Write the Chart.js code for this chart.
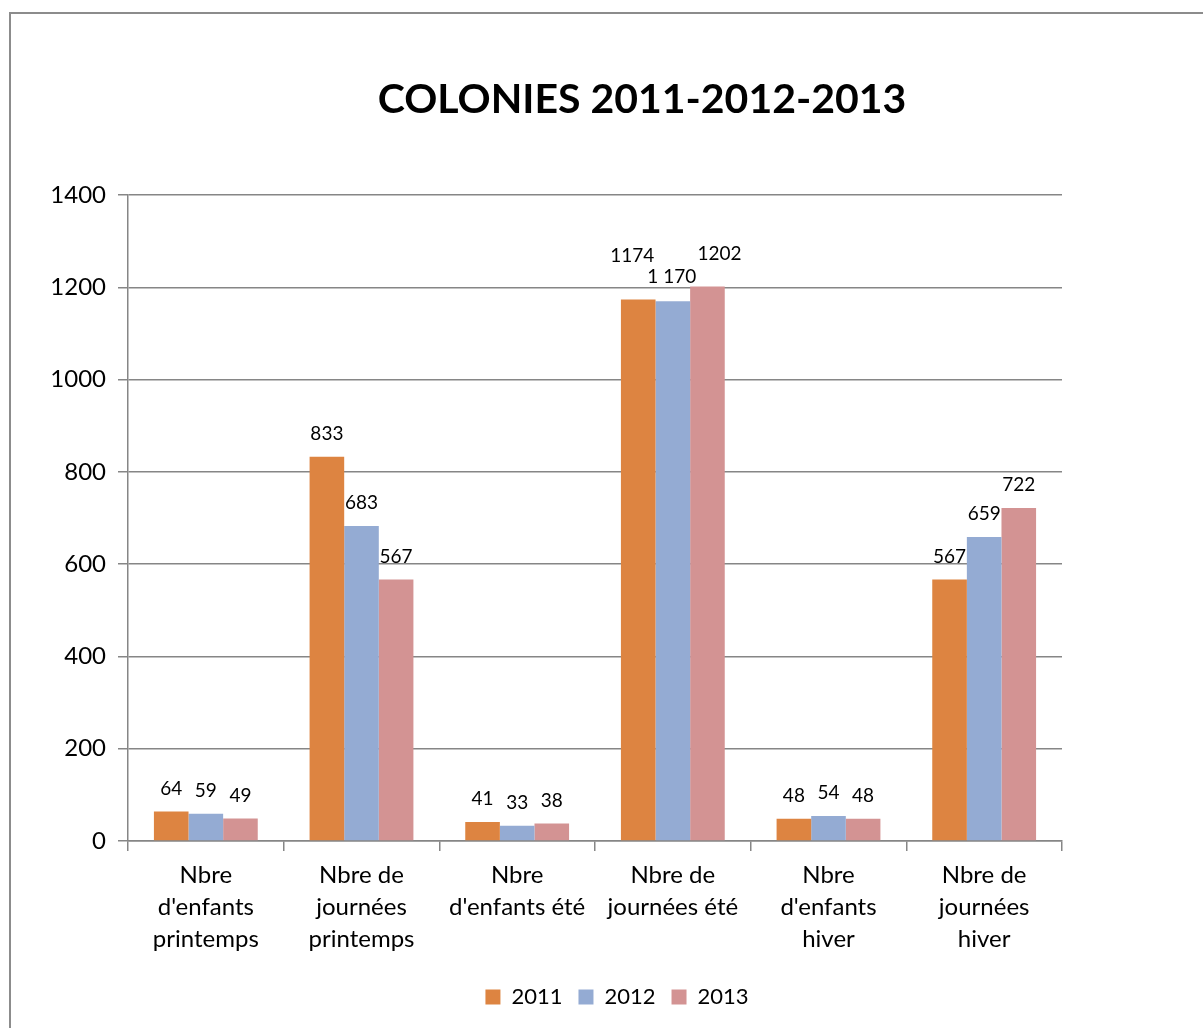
<!DOCTYPE html>
<html>
<head>
<meta charset="utf-8">
<script src="https://cdn.jsdelivr.net/npm/chart.js@4.4.1/dist/chart.umd.min.js"></script>
<style>
  html, body { margin: 0; padding: 0; background: #fff; overflow: hidden; }
  #frame {
    position: absolute; left: 9px; top: 12px;
    width: 1262px; height: 1040px;
    border: 2px solid #8c8c8c;
    background: #fff;
  }
</style>
</head>
<body>
<div id="frame"><canvas id="chart"></canvas></div>
<script>
// categories (multi-line labels, as in the original)
const categories = [
  ['Nbre', "d'enfants", 'printemps'],
  ['Nbre de', 'journées', 'printemps'],
  ['Nbre', "d'enfants été"],
  ['Nbre de', 'journées été'],
  ['Nbre', "d'enfants", 'hiver'],
  ['Nbre de', 'journées', 'hiver']
];
const years = ['2011', '2012', '2013'];
const values2011 = [64, 833, 41, 1174, 48, 567];
const values2012 = [59, 683, 33, 1170, 54, 659];
const values2013 = [49, 567, 38, 1202, 48, 722];
const yTicksMax = 1400;
const yTicksStep = 200;

const colors = ['#dd8441', '#94abd3', '#d39393'];
const FONT = 'Lato, sans-serif';

// valeurs affichées au-dessus des barres
// (le groupe "journées été" a été déplacé à la main dans l'original)
const labelPlugin = {
  id: 'barLabels',
  afterLayout(chart) {
    // la légende de l'original est un peu décalée vers la gauche
    if (chart.legend) {
      chart.legend.left -= 25;
      chart.legend.right -= 25;
    }
  },
  afterDatasetsDraw(chart) {
    const ctx = chart.ctx;
    const tweak = {
      '0-3': { dx: -6, dy: -21 },
      '1-3': { dx: -1, dy: -1, text: '1 170' },
      '2-3': { dx: 12, dy: -10 }
    };
    ctx.save();
    ctx.font = '19px ' + FONT;
    ctx.fillStyle = '#000';
    ctx.textAlign = 'center';
    ctx.textBaseline = 'middle';
    chart.data.datasets.forEach((ds, i) => {
      const meta = chart.getDatasetMeta(i);
      meta.data.forEach((bar, j) => {
        const t = tweak[i + '-' + j] || {};
        const txt = t.text || String(ds.data[j]);
        ctx.fillText(txt, bar.x + (t.dx || 0), bar.y - 23 + (t.dy || 0));
      });
    });
    ctx.restore();
  }
};

const gridColor = '#868686';

new Chart(document.getElementById('chart'), {
  type: 'bar',
  data: {
    labels: categories,
    datasets: [
      { label: years[0], data: values2011, backgroundColor: colors[0] },
      { label: years[1], data: values2012, backgroundColor: colors[1] },
      { label: years[2], data: values2013, backgroundColor: colors[2] }
    ]
  },
  options: {
    responsive: true,
    maintainAspectRatio: false,
    animation: false,
    layout: { padding: { top: 0, left: 0, right: 0, bottom: 36 } },
    datasets: {
      bar: { barPercentage: 1, categoryPercentage: 0.667 }
    },
    plugins: {
      title: {
        display: true,
        text: 'COLONIES 2011-2012-2013',
        color: '#000',
        font: { family: FONT, size: 41, weight: 'bold', lineHeight: 1.2 },
        padding: { top: 61, bottom: 71 }
      },
      legend: {
        position: 'bottom',
        labels: {
          color: '#000',
          font: { family: FONT, size: 22 },
          boxWidth: 15,
          boxHeight: 15,
          padding: 16
        }
      },
      tooltip: { enabled: false }
    },
    scales: {
      x: {
        grid: { offset: true, drawOnChartArea: false, tickLength: 10, color: gridColor, lineWidth: 1.5 },
        border: { color: gridColor, width: 1.5 },
        ticks: {
          color: '#000',
          font: { family: FONT, size: 24, lineHeight: 1.333 },
          maxRotation: 0,
          autoSkip: false,
          padding: 8
        },
        afterFit(s) { s.height = 129; }
      },
      y: {
        min: 0,
        max: yTicksMax,
        ticks: {
          stepSize: yTicksStep,
          color: '#000',
          font: { family: FONT, size: 24 },
          padding: 12,
          callback: v => String(v)
        },
        grid: { color: gridColor, tickLength: 10, lineWidth: 1.5 },
        border: { color: gridColor, width: 1.5 },
        afterFit(s) { s.width = 117; }
      },
      // axe vide à droite : garde la place blanche de l'original
      yRight: {
        position: 'right',
        grid: { display: false },
        ticks: { display: false },
        border: { display: false },
        afterFit(s) { s.width = 211; }
      }
    }
  },
  plugins: [labelPlugin]
});
</script>
</body>
</html>
